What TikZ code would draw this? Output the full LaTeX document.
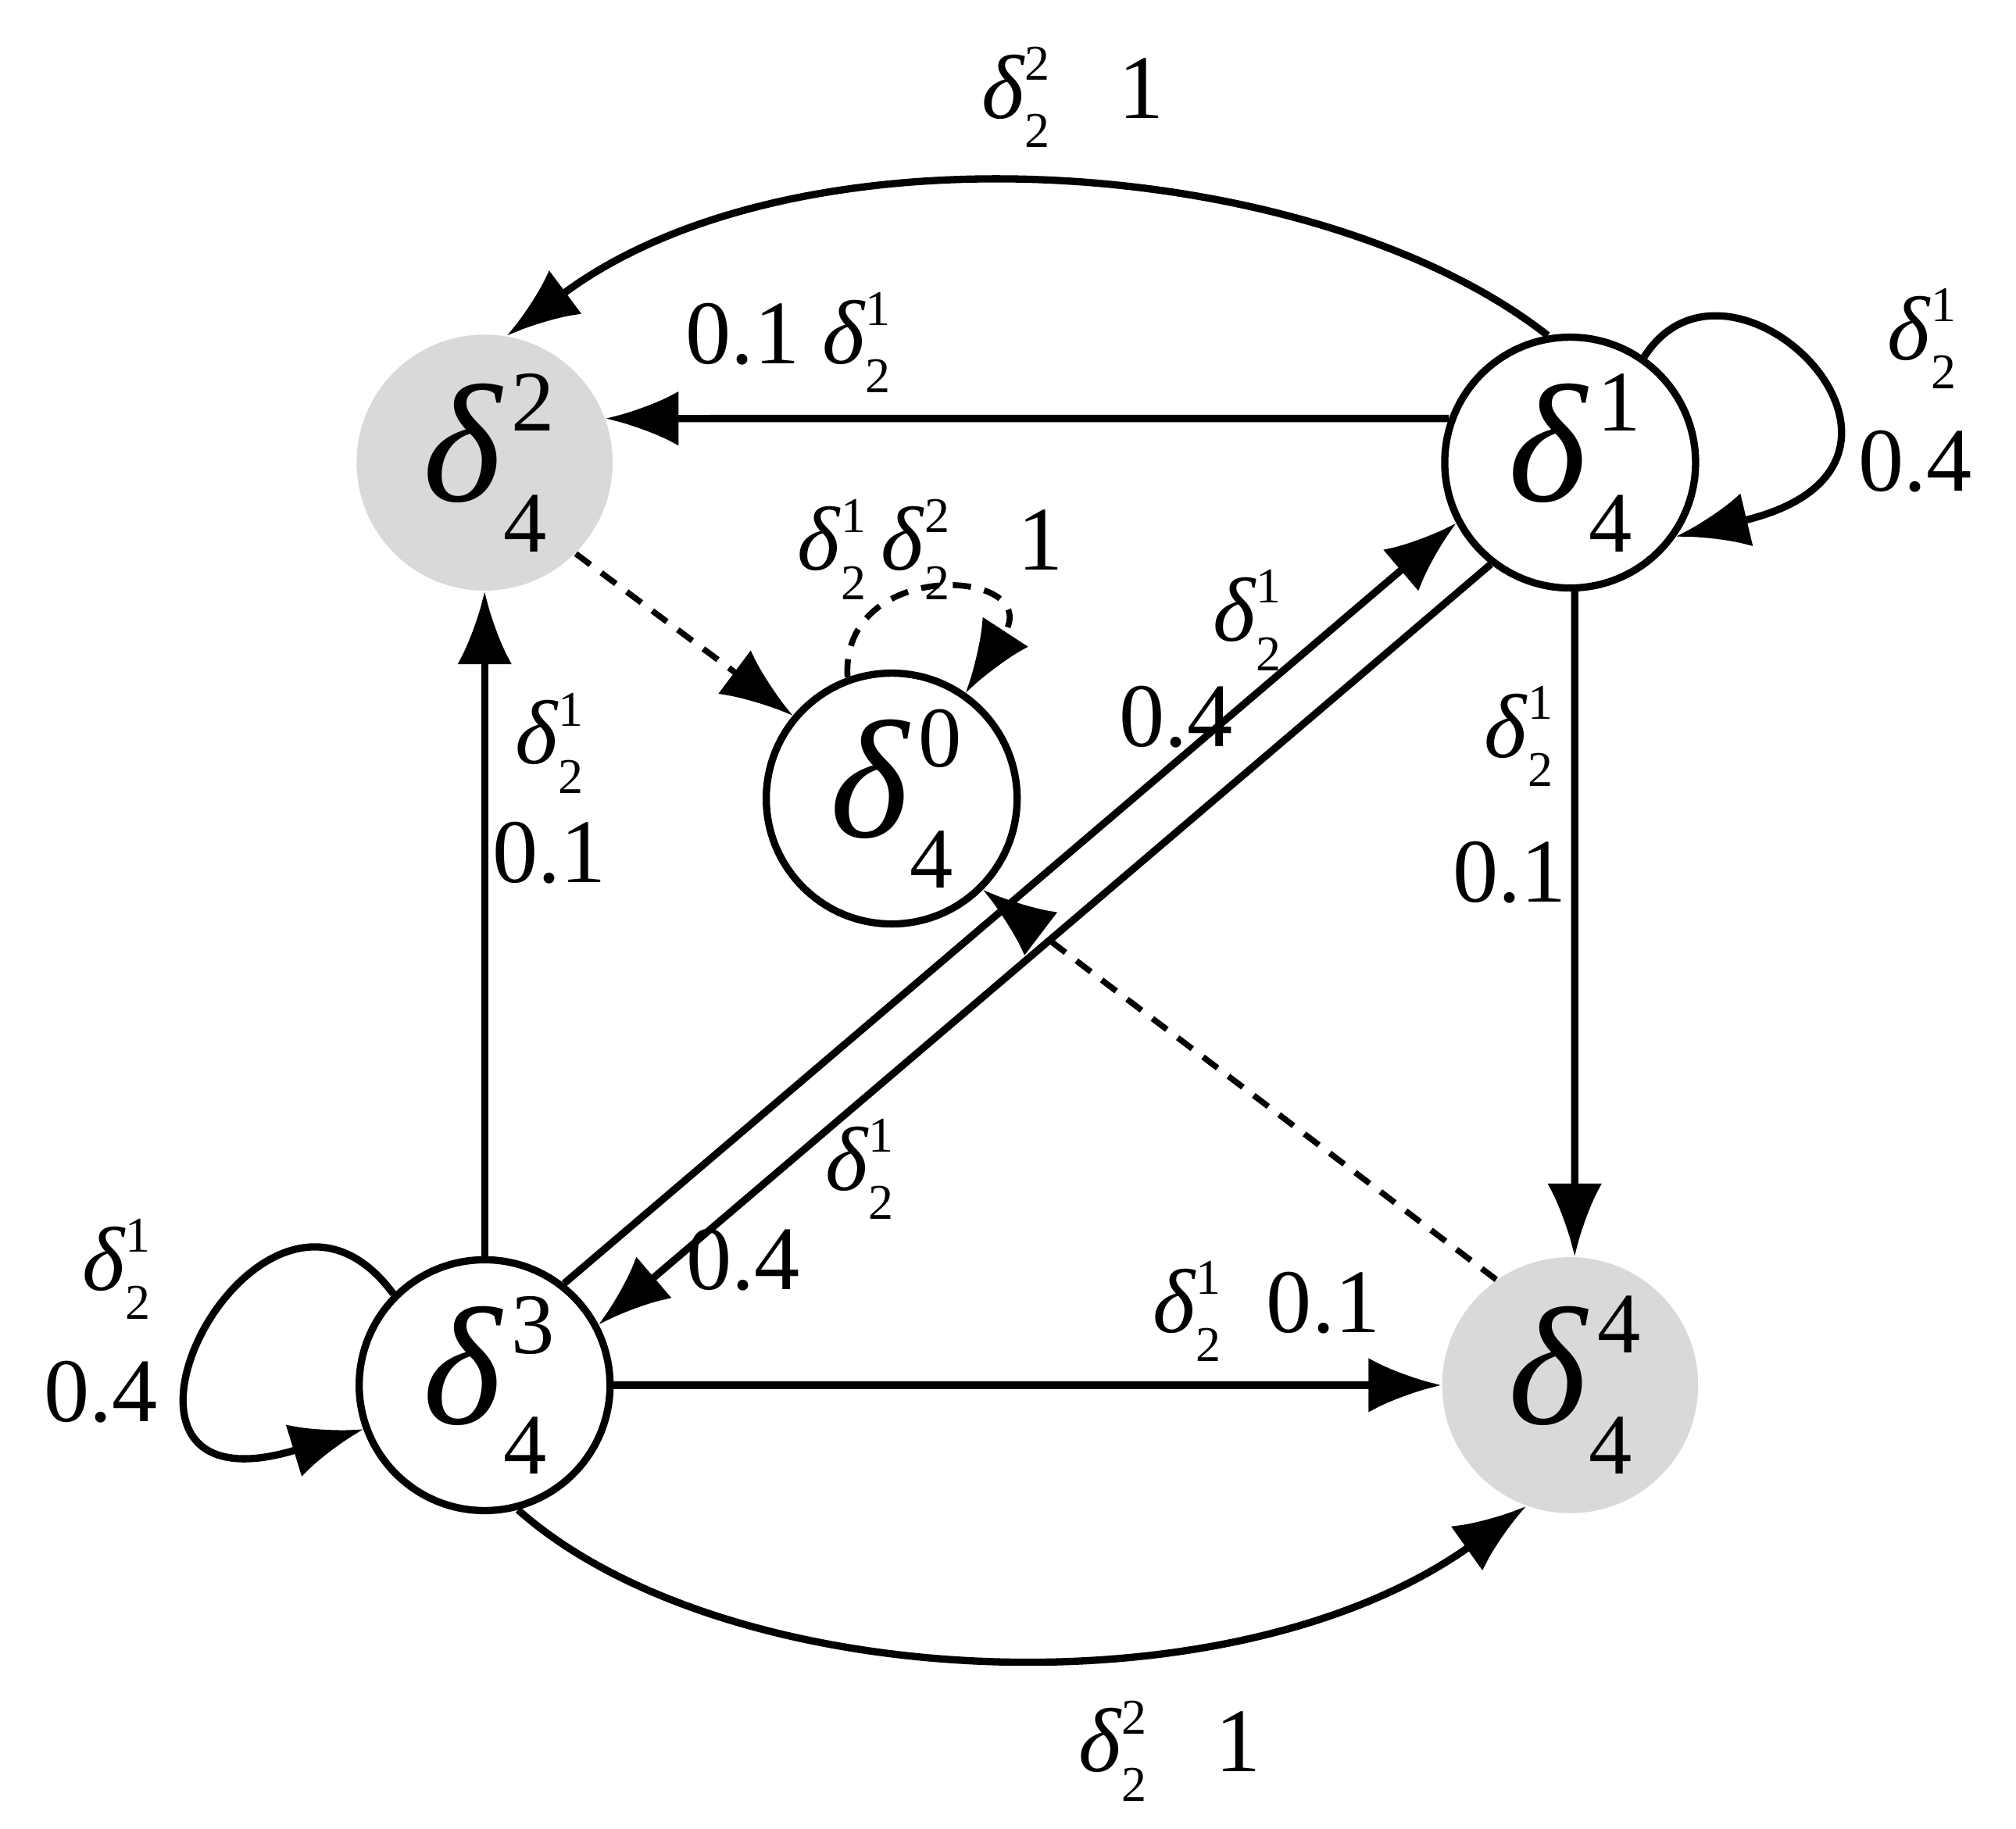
\documentclass[tikz,border=0pt]{standalone}
\usepackage{amsmath}
\usepackage{fontspec}
\setmainfont{Liberation Serif}
\usetikzlibrary{arrows.meta}
\newcommand\dd[2]{\textit{δ}\rlap{\raisebox{0.42em}{\scalebox{0.55}{#1}}}\raisebox{-0.32em}{\scalebox{0.55}{#2}}}
\newcommand\nd[2]{\textit{δ}\rlap{\hspace{0.05em}\raisebox{0.42em}{\fontsize{19}{19}\selectfont #1}}\raisebox{-0.3em}{\fontsize{19}{19}\selectfont #2}}
\tikzset{
  st/.style={circle,draw,line width=1.6pt,minimum size=1.94cm,inner sep=0pt,font=\fontsize{37}{37}\selectfont},
  gr/.style={circle,fill=black!15,minimum size=1.98cm,inner sep=0pt,font=\fontsize{37}{37}\selectfont},
  ed/.style={line width=1.6pt,-{Latex[length=16pt,width=12pt]}},
  dsh/.style={line width=1.3pt,dashed,dash pattern=on 4pt off 3pt,-{Latex[length=16pt,width=12pt]}},
  lb/.style={font=\fontsize{20}{20}\selectfont,inner sep=1pt}
}
\begin{document}
\begin{tikzpicture}[x=0.01cm,y=-0.01cm]
\useasboundingbox (0,0) rectangle (1560,1415);
\node[gr] (d2) at (375,358) {\nd{2}{4}};
\node[st] (d1) at (1215,358) {\nd{1}{4}};
\node[st] (d0) at (690,618) {\nd{0}{4}};
\node[st] (d3) at (375,1072) {\nd{3}{4}};
\node[gr] (d4) at (1215,1072) {\nd{4}{4}};
% top arc
\draw[ed] (d1.100) .. controls (1020,120) and (620,90) .. (d2.80);
\node[lb] (l1) at (830,75) {\dd{2}{2}\ \ \ 1};
% horizontal top
\draw[ed] (d1.160) -- (d2.20);
\node[lb] (l2) at (610,265) {0.1 \dd{1}{2}};
% d1 self loop
\draw[ed] (d1.55) .. controls (1340,170) and (1530,360) .. (d1.-35);
\node[lb] (l3) at (1487,262) {\dd{1}{2}};
\node[lb] (l4) at (1482,357) {0.4};
% d1 -> d4
\draw[ed] (d1.-88) -- (d4.88);
\node[lb] (l5) at (1175,570) {\dd{1}{2}};
\node[lb] (l6) at (1168,675) {0.1};
% diagonals
\draw[ed] (d3.52) -- (d1.208);
\draw[ed] (d1.232) -- (d3.28);
\node[lb] (l7) at (965,480) {\dd{1}{2}};
\node[lb] (l8) at (910,555) {0.4};
\node[lb] (l9) at (665,905) {\dd{1}{2}};
\node[lb] (l10) at (575,975) {0.4};
% d3 -> d2
\draw[ed] (d3.90) -- (d2.-90);
\node[lb] (l11) at (425,575) {\dd{1}{2}};
\node[lb] (l12) at (425,660) {0.1};
% d3 self loop
\draw[ed] (d3.135) .. controls (200,860) and (40,1180) .. (d3.-160);
\node[lb] (l13) at (90,982) {\dd{1}{2}};
\node[lb] (l14) at (78,1077) {0.4};
% d3 -> d4 straight
\draw[ed] (d3.0) -- (d4.180);
\node[lb] (l15) at (980,1015) {\dd{1}{2}\ \ 0.1};
% bottom arc
\draw[ed] (d3.-75) .. controls (560,1310) and (950,1330) .. (d4.-110);
\node[lb] (l16) at (905,1355) {\dd{2}{2}\ \ \ 1};
% dashed
\draw[dsh] (d2.-45) -- (d0.140);
\draw[dsh] (d4.125) -- (d0.-45);
\draw[dsh] (d0.110) .. controls (650,430) and (810,440) .. (d0.55);
\node[lb] (l17) at (720,425) {\dd{1}{2}\,\dd{2}{2}\ \ \ 1};
\end{tikzpicture}
\end{document}
